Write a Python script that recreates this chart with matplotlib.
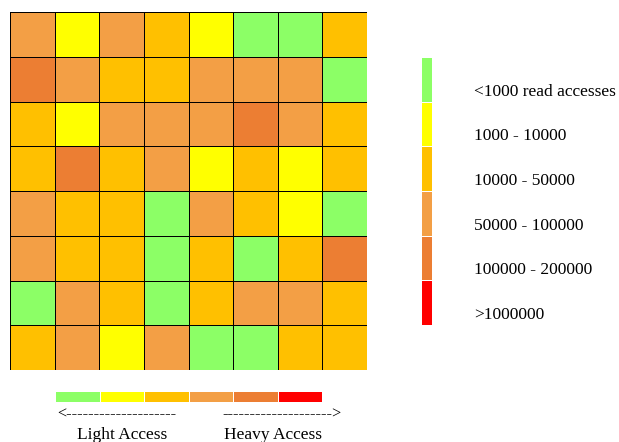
import numpy as np
import matplotlib
matplotlib.use("Agg")
import matplotlib.pyplot as plt
from matplotlib.colors import ListedColormap, BoundaryNorm

# Access-level category of every block (0 = lightest, 5 = heaviest), top row first
access_levels = [
    [3, 1, 3, 2, 1, 0, 0, 2],
    [4, 3, 2, 2, 3, 3, 3, 0],
    [2, 1, 3, 3, 3, 4, 3, 2],
    [2, 4, 2, 3, 1, 2, 1, 2],
    [3, 2, 2, 0, 3, 2, 1, 0],
    [3, 2, 2, 0, 2, 0, 2, 4],
    [0, 3, 2, 0, 2, 3, 3, 2],
    [2, 3, 1, 3, 0, 0, 2, 2],
]

range_labels = [
    "<1000 read accesses",
    "1000 - 10000",
    "10000 - 50000",
    "50000 - 100000",
    "100000 - 200000",
    ">1000000",
]

level_colors = ["#8cff66", "#ffff00", "#ffc000", "#f39f45", "#ec7e33", "#ff0000"]

cmap = ListedColormap(level_colors)
norm = BoundaryNorm(np.arange(-0.5, len(level_colors) + 0.5, 1), cmap.N)

W, H = 619, 442
fig = plt.figure(figsize=(W / 100, H / 100), dpi=100)
fig.patch.set_facecolor("white")


def px_axes(x0, y0, x1, y1):
    """Axes placed by pixel box (top-left origin)."""
    return fig.add_axes([x0 / W, 1 - y1 / H, (x1 - x0) / W, (y1 - y0) / H])


serif = ["Liberation Serif", "DejaVu Serif"]

# Main block heatmap
grid = np.array(access_levels)
ax = px_axes(10, 12, 367, 370)
ax.pcolormesh(grid, cmap=cmap, norm=norm, edgecolors="black", linewidth=0.7)
ax.set_xlim(0, grid.shape[1])
ax.set_ylim(grid.shape[0], 0)
ax.set_axis_off()

# Vertical legend bar
levels = np.arange(len(level_colors))
lax = px_axes(421, 57, 432, 325)
lax.pcolormesh(levels.reshape(-1, 1), cmap=cmap, norm=norm,
               edgecolors="white", linewidth=0.6)
lax.set_xlim(0, 1)
lax.set_ylim(len(levels), 0)
lax.set_axis_off()

seg = (325 - 57) / len(levels)
for i, lab in enumerate(range_labels):
    y = 57 + seg * (i + 1) - 10
    fig.text(474 / W, 1 - y / H, lab, family=serif, fontsize=12.5,
             ha="left", va="center")

# Horizontal light-to-heavy scale
bax = px_axes(55, 391, 322, 402)
bax.pcolormesh(levels.reshape(1, -1), cmap=cmap, norm=norm,
               edgecolors="white", linewidth=0.6)
bax.set_xlim(0, len(levels))
bax.set_ylim(0, 1)
bax.set_axis_off()

fig.text(57 / W, 1 - 415 / H, "<" + "-" * 20, family=serif, fontsize=11.7,
         ha="left", va="center")
fig.text(222 / W, 1 - 415 / H, "-" * 20 + ">", family=serif, fontsize=11.7,
         ha="left", va="center")
fig.text(122 / W, 1 - 435 / H, "Light Access", family=serif, fontsize=12.5,
         ha="center", va="center")
fig.text(273 / W, 1 - 435 / H, "Heavy Access", family=serif, fontsize=12.5,
         ha="center", va="center")

fig.savefig("out.png", dpi=100, facecolor="white")
